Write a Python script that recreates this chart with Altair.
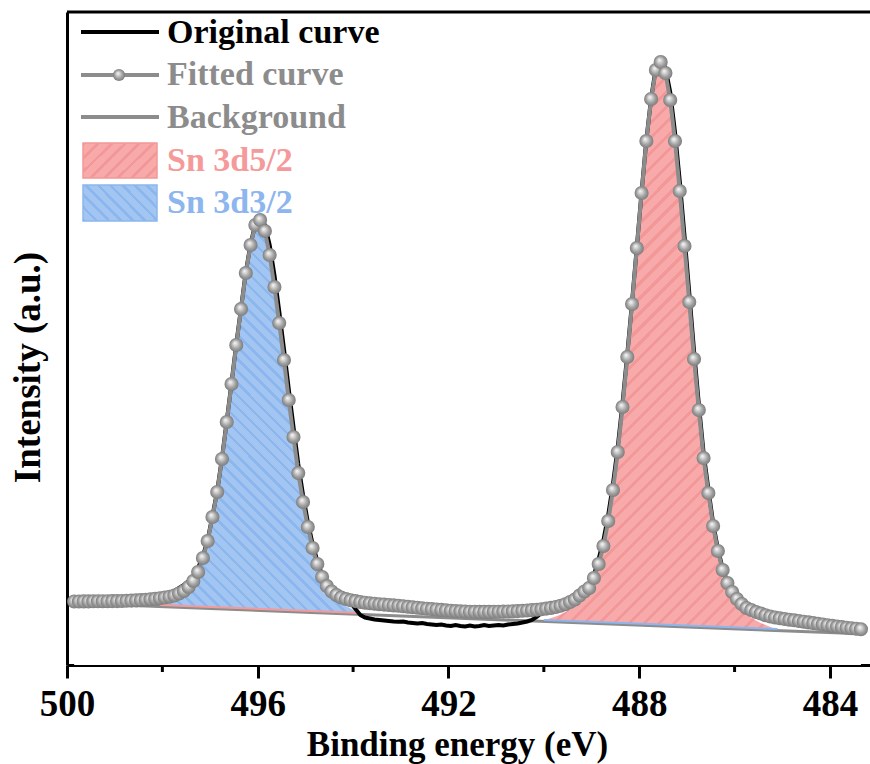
import altair as alt
import pandas as pd

# ---------------- data (binding energy in eV, intensity in arbitrary units) ----------------
BE_START = 499.85
BE_STEP = 0.1

fitted = [
    63.5, 63.5, 63.6, 63.6, 63.7, 63.7, 63.8, 63.8, 63.9, 63.9,
    64.0, 64.2, 64.4, 64.6, 64.9, 65.2, 65.7, 66.2, 66.8, 67.5,
    68.3, 69.5, 71.5, 74, 78, 84, 93, 107, 124, 148,
    173, 206, 243, 281, 320, 356, 392, 420, 440, 445,
    434, 410, 378, 342, 305, 265, 228, 192, 163, 138,
    117, 101, 88, 79, 73.5, 70, 67.5, 66, 64.8, 63.9,
    63.0, 62.3, 61.8, 61.3, 60.8, 60.4, 60.0, 59.6, 59.2, 58.7,
    58.2, 57.7, 57.2, 56.7, 56.3, 55.9, 55.5, 55.1, 54.7, 54.3,
    54.0, 53.7, 53.5, 53.3, 53.2, 53.1, 53.1, 53.1, 53.2, 53.3,
    53.4, 53.5, 53.7, 53.9, 54.2, 54.5, 54.9, 55.3, 55.8, 56.4,
    57.1, 58.0, 59.2, 60.8, 63.0, 65.5, 69.5, 73.5, 77, 87,
    101, 119, 144, 175, 213, 258, 308, 361, 417, 472,
    524, 566, 595, 603, 592, 565, 524, 474, 419, 363,
    306, 255, 207, 172, 139, 114, 95, 82, 73, 66,
    61, 57, 55, 53, 51.5, 49.8, 48.5, 47.5, 46.7, 46.0,
    45.3, 44.7, 44.0, 43.3, 42.6, 41.9, 41.2, 40.5, 39.8, 39.1,
    38.5, 37.9, 37.3, 36.8, 36.3, 35.8,
]

original = [
    63.5, 63.5, 63.6, 63.6, 63.7, 63.7, 63.8, 63.8, 63.9, 63.9,
    64.0, 64.2, 64.4, 64.6, 64.9, 65.2, 65.7, 66.4, 67.5, 69,
    71.5, 74, 77, 80, 84, 89, 97, 109, 125, 149,
    174, 207, 244, 282, 321, 357, 393, 421, 441, 446,
    440, 420, 390, 354, 316, 276, 238, 201, 170, 143,
    121, 104, 90, 80, 73.5, 69.5, 67, 65, 62, 56,
    50, 47.5, 46.5, 45.5, 45, 44.5, 44, 43.5, 43.2, 43.5,
    42.5, 42, 41.5, 42, 41, 40.5, 40, 40.5, 39.5, 39,
    40, 39, 38.5, 39.5, 38.5, 39, 40, 39, 39.5, 40,
    39.5, 40.5, 41, 41.5, 42.5, 43.5, 45, 48, 52, 56,
    57.5, 58.2, 59.3, 61, 63.2, 66, 70, 74.5, 79, 90,
    106, 125, 150, 181, 218, 262, 311, 363, 418, 473,
    525, 567, 597, 605, 597, 573, 533, 484, 429, 372,
    314, 261, 212, 176, 142, 116, 96.5, 83, 73.5, 66.3,
    61, 57, 55, 53, 51.5, 49.8, 48.5, 47.5, 46.7, 46.0,
    45.3, 44.7, 44.0, 43.3, 42.6, 41.9, 41.2, 40.5, 39.8, 39.1,
    38.5, 37.9, 37.3, 36.8, 36.3, 35.8,
]

# linear background (end points)
bg_be = [499.85, 483.35]
bg_val = [61.8, 31.2]

# Sn 3d3/2 component (top of filled area)
d32_start = 498.15
d32_top = [
    58.7, 60.0, 61.0, 62.0, 63.5, 65.5, 68.5, 73, 79.5, 89,
    103.5, 121, 145, 170, 203, 240, 278, 317, 353, 389,
    417, 437, 442, 431, 407, 375, 339, 302, 262, 225,
    189, 160, 135, 114, 98, 85, 75.5, 69.5, 65.5, 62,
    59, 56.5, 54, 52, 50.4,
]

# Sn 3d5/2 component (top of filled area)
d52_start = 490.05
d52_top = [
    43.6, 45.5, 47, 48.5, 50.5, 53, 56, 59, 64, 68.5,
    73, 83, 97.5, 116, 141, 172, 210, 255, 305, 358,
    414, 469, 521, 563, 592, 600, 589, 562, 521, 471,
    416, 360, 303, 252, 204, 169, 136, 111, 91.5, 78,
    68.5, 61, 55.5, 51, 47.5, 44.5, 42, 40, 38, 36,
    34.3,
]

# faint component tails lying on the background
tail52_be = [498.05, 493.85]
tail52_val = [60.0, 52.1]
tail32_be = [490.0, 485.1]
tail32_val = [45.0, 35.95]

x_ticks = [500, 496, 492, 488, 484]
x_minor = [498, 494, 490, 486]
legend_labels = ["Original curve", "Fitted curve", "Background", "Sn 3d5/2", "Sn 3d3/2"]

# ---------------- styling ----------------
FONT = "Liberation Serif"
W, H = 803, 653
GRAY = "#8C8C8C"
RED_BASE, RED_LINE, RED_TEXT = "#F8AAAA", "#F29898", "#F59A9A"
BLUE_BASE, BLUE_LINE, BLUE_TEXT = "#A2C5F1", "#8CB6EE", "#8DB5EE"


def grid(start, n):
    return [round(start - BE_STEP * i, 2) for i in range(n)]


def stripes(base, line, periods, frac, x1, y1, x2, y2):
    stops = []
    for k in range(periods):
        a = round(k / periods, 5)
        b = round((k + frac) / periods, 5)
        c = round((k + 1) / periods, 5)
        stops += [
            alt.GradientStop(color=line, offset=a),
            alt.GradientStop(color=line, offset=b),
            alt.GradientStop(color=base, offset=b),
            alt.GradientStop(color=base, offset=c),
        ]
    return alt.LinearGradient(gradient="linear", stops=stops, x1=x1, y1=y1, x2=x2, y2=y2)


sphere = alt.RadialGradient(
    gradient="radial",
    stops=[
        alt.GradientStop(color="#FBFBFB", offset=0.0),
        alt.GradientStop(color="#D2D2D2", offset=0.3),
        alt.GradientStop(color="#A0A0A0", offset=0.65),
        alt.GradientStop(color="#7C7C7C", offset=1.0),
    ],
    x1=0.4, y1=0.35, r1=0.0, x2=0.5, y2=0.5, r2=0.5,
)

red_fill = stripes(RED_BASE, RED_LINE, 56, 0.28, 0, 0, 0.480, 1.207)
blue_fill = stripes(BLUE_BASE, BLUE_LINE, 54, 0.3, 0, 1, 0.572, -0.2035)
red_patch = stripes(RED_BASE, RED_LINE, 8, 0.28, 0, 0, 1.202, 0.577)
blue_patch = stripes(BLUE_BASE, BLUE_LINE, 9, 0.3, 0, 1, 1.202, 0.423)

# ---------------- tables ----------------
be = grid(BE_START, len(fitted))
df_fit = pd.DataFrame({"be": be, "val": fitted})
df_orig = pd.DataFrame({"be": be, "val": original})
df_bg = pd.DataFrame({"be": bg_be, "val": bg_val})
df_32 = pd.DataFrame({"be": grid(d32_start, len(d32_top)), "val": d32_top})
df_52 = pd.DataFrame({"be": grid(d52_start, len(d52_top)), "val": d52_top})
df_t52 = pd.DataFrame({"be": tail52_be, "val": tail52_val})
df_t32 = pd.DataFrame({"be": tail32_be, "val": tail32_val})
df_minor = pd.DataFrame({"be": x_minor})
dummy = pd.DataFrame({"d": [0]})

X = alt.X(
    "be:Q",
    scale=alt.Scale(domain=[500, 483.16], nice=False, zero=False),
    axis=alt.Axis(
        values=x_ticks, format="d", tickSize=13, labelFontSize=37, labelColor="black",
        labelPadding=37, labelBaseline="alphabetic", labelFlush=False, labelOverlap=False,
        title="Binding energy (eV)", titleFontSize=35, titleColor="black",
        titleX=390, titleY=90, titleAlign="center", titleBaseline="alphabetic",
    ),
)
Y = alt.Y(
    "val:Q",
    scale=alt.Scale(domain=[0, H], nice=False, zero=False),
    axis=alt.Axis(
        ticks=False, labels=False, title="Intensity (a.u.)", titleFontSize=37,
        titleColor="black", titleAngle=270, titleX=-28, titleY=355,
        titleAlign="center", titleBaseline="alphabetic",
    ),
)

layers = [
    alt.Chart(df_52).mark_area(fill=red_fill, opacity=1).encode(x=X, y=Y, y2=alt.value(H)),
    alt.Chart(df_32).mark_area(fill=blue_fill, opacity=1).encode(x=X, y=Y, y2=alt.value(H)),
    alt.Chart(df_bg).mark_area(fill="white", opacity=1).encode(x=X, y=Y, y2=alt.value(H)),
    alt.Chart(df_bg).mark_line(color=GRAY, strokeWidth=3).encode(x=X, y=Y),
    alt.Chart(df_t52).mark_line(color=RED_TEXT, strokeWidth=2).encode(x=X, y=Y),
    alt.Chart(df_t32).mark_line(color=BLUE_TEXT, strokeWidth=2).encode(x=X, y=Y),
    alt.Chart(df_orig).mark_line(color="black", strokeWidth=4).encode(x=X, y=Y),
    alt.Chart(df_fit).mark_line(color=GRAY, strokeWidth=4).encode(x=X, y=Y),
    alt.Chart(df_fit).mark_point(shape="circle", filled=True, fill=sphere, size=200,
                                 opacity=1, strokeWidth=0).encode(x=X, y=Y),
    # minor ticks of the x axis
    alt.Chart(df_minor).mark_rule(color="black", strokeWidth=3).encode(
        x=X, y=alt.value(H), y2=alt.value(H + 7)),
    # top frame line
    alt.Chart(dummy).mark_rule(color="black", strokeWidth=3).encode(
        x=alt.value(0), x2=alt.value(W), y=alt.value(0)),
]

# ---------------- legend ----------------
text_colors = ["black", GRAY, GRAY, RED_TEXT, BLUE_TEXT]
text_y = [31, 73, 116, 159, 201]
for lab, col, ty in zip(legend_labels, text_colors, text_y):
    layers.append(
        alt.Chart(dummy).mark_text(
            text=lab, align="left", baseline="alphabetic", font=FONT, fontSize=34,
            fontWeight="bold", color=col,
        ).encode(x=alt.value(100), y=alt.value(ty))
    )

layers += [
    alt.Chart(dummy).mark_rule(color="black", strokeWidth=4).encode(
        x=alt.value(14), x2=alt.value(92), y=alt.value(20)),
    alt.Chart(dummy).mark_rule(color=GRAY, strokeWidth=4).encode(
        x=alt.value(14), x2=alt.value(92), y=alt.value(63)),
    alt.Chart(dummy).mark_point(shape="circle", filled=True, fill=sphere, size=150,
                                opacity=1, strokeWidth=0).encode(x=alt.value(52), y=alt.value(63)),
    alt.Chart(dummy).mark_rule(color=GRAY, strokeWidth=4).encode(
        x=alt.value(14), x2=alt.value(92), y=alt.value(105)),
    alt.Chart(dummy).mark_rect(fill=red_patch, stroke=RED_LINE, strokeWidth=1.5, opacity=1).encode(
        x=alt.value(16), x2=alt.value(90), y=alt.value(131), y2=alt.value(166)),
    alt.Chart(dummy).mark_rect(fill=blue_patch, stroke=BLUE_LINE, strokeWidth=1.5, opacity=1).encode(
        x=alt.value(16), x2=alt.value(90), y=alt.value(173), y2=alt.value(209)),
]

chart = (
    alt.layer(*layers)
    .properties(
        width=W, height=H,
        padding={"left": 67, "top": 12, "right": 0, "bottom": 99},
        autosize=alt.AutoSizeParams(type="none"),
    )
    .configure_view(stroke=None)
    .configure_axis(
        domainColor="black", domainWidth=3, tickColor="black", tickWidth=3,
        labelFont=FONT, titleFont=FONT, labelFontWeight="bold", titleFontWeight="bold",
        grid=False, zindex=1,
    )
)

chart.save("out.html", embed_options={"renderer": "svg", "actions": False})
